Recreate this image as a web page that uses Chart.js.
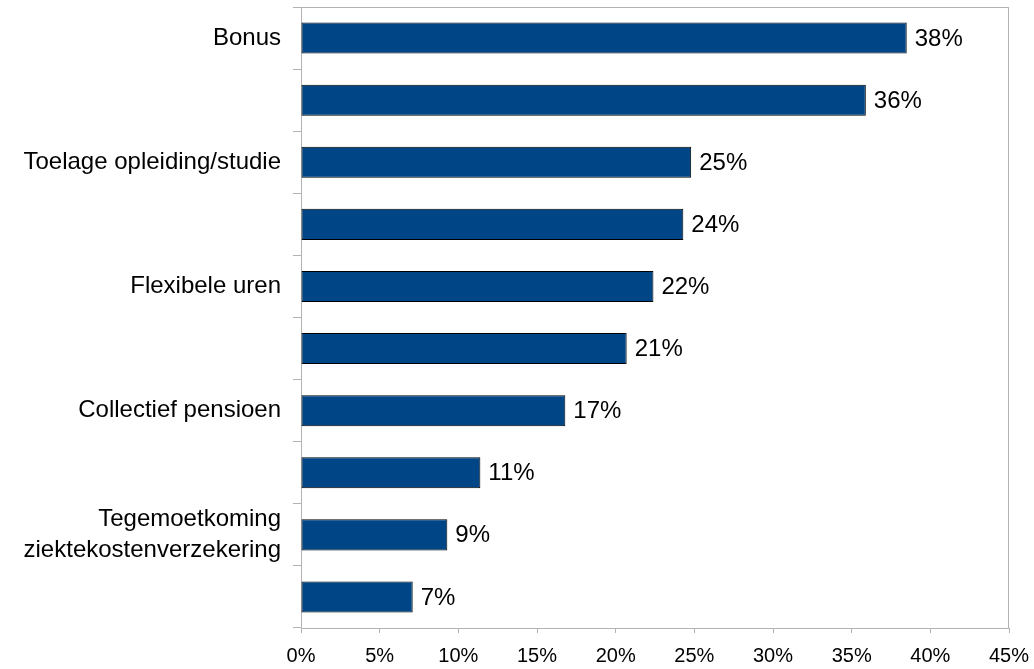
<!doctype html>
<html lang="nl">
<head>
<meta charset="utf-8">
<title>Secundaire arbeidsvoorwaarden</title>
<script src="https://cdn.jsdelivr.net/npm/chart.js"></script>
<style>
  html, body { margin: 0; padding: 0; background: #fff; }
  #box { width: 1034px; height: 669px; position: relative; }
</style>
</head>
<body>
<div id="box"><canvas id="myChart"></canvas></div>

<script>
// categories (the unlabeled rows have no visible name in the original)
var categories = [
  'Bonus',
  '',
  'Toelage opleiding/studie',
  '',
  'Flexibele uren',
  '',
  'Collectief pensioen',
  '',
  ['Tegemoetkoming', 'ziektekostenverzekering'],
  ''
];
// bar lengths in percent
var values = [38.5, 35.9, 24.8, 24.3, 22.4, 20.7, 16.8, 11.4, 9.3, 7.1];
// the printed labels next to each bar
var valueLabels = ['38%', '36%', '25%', '24%', '22%', '21%', '17%', '11%', '9%', '7%'];
// x axis ticks
var xTicks = [0, 5, 10, 15, 20, 25, 30, 35, 40, 45];

var gray = '#b3b3b3';

// frame around the plot area
var frame = {
  id: 'frame',
  beforeDatasetsDraw: function(chart) {
    var a = chart.chartArea, c = chart.ctx;
    c.save();
    c.strokeStyle = gray;
    c.lineWidth = 1;
    c.strokeRect(a.left + 0.5, a.top + 0.5, a.right - a.left - 1, a.bottom - a.top);
    c.restore();
  }
};

// percent labels at the end of each bar
var barLabels = {
  id: 'barLabels',
  afterDatasetsDraw: function(chart) {
    var c = chart.ctx;
    var meta = chart.getDatasetMeta(0);
    c.save();
    c.font = '24px "Liberation Sans", Arial, sans-serif';
    c.fillStyle = '#000';
    c.textAlign = 'left';
    c.textBaseline = 'middle';
    meta.data.forEach(function(bar, i) {
      c.fillText(valueLabels[i], bar.x + 8, bar.y + 1);
    });
    c.restore();
  }
};

new Chart(document.getElementById('myChart'), {
  type: 'bar',
  data: {
    labels: categories,
    datasets: [{
      data: values,
      backgroundColor: '#004586',
      borderColor: '#000',
      borderWidth: 1,
      borderSkipped: false,
      categoryPercentage: 1.0,
      barPercentage: 0.5
    }]
  },
  options: {
    indexAxis: 'y',
    responsive: true,
    maintainAspectRatio: false,
    animation: false,
    layout: { padding: { top: 7, right: 25, left: 0, bottom: 0 } },
    plugins: {
      legend: { display: false },
      tooltip: { enabled: false }
    },
    scales: {
      y: {
        grid: {
          display: true,
          offset: true,
          drawOnChartArea: false,
          drawTicks: true,
          tickLength: 8,
          color: gray
        },
        border: { display: true, color: gray, width: 1 },
        ticks: {
          autoSkip: false,
          padding: 12,
          color: '#000',
          font: { family: '"Liberation Sans", Arial, sans-serif', size: 24, lineHeight: 1.3 }
        },
        afterFit: function(scale) {
          scale.width = 301;
          scale.paddingTop = 0;
          scale.paddingBottom = 0;
        }
      },
      x: {
        min: 0,
        max: 45,
        afterBuildTicks: function(scale) {
          scale.ticks = xTicks.map(function(v) { return { value: v }; });
        },
        grid: {
          display: true,
          drawOnChartArea: false,
          drawTicks: true,
          tickLength: 5,
          color: gray
        },
        border: { display: true, color: gray, width: 1 },
        ticks: {
          padding: 11,
          color: '#000',
          maxRotation: 0,
          font: { family: '"Liberation Sans", Arial, sans-serif', size: 20 },
          callback: function(v) { return v + '%'; }
        },
        afterFit: function(scale) {
          scale.height = 41;
          scale.paddingLeft = 0;
          scale.paddingRight = 0;
        }
      }
    }
  },
  plugins: [frame, barLabels]
});
</script>
</body>
</html>
